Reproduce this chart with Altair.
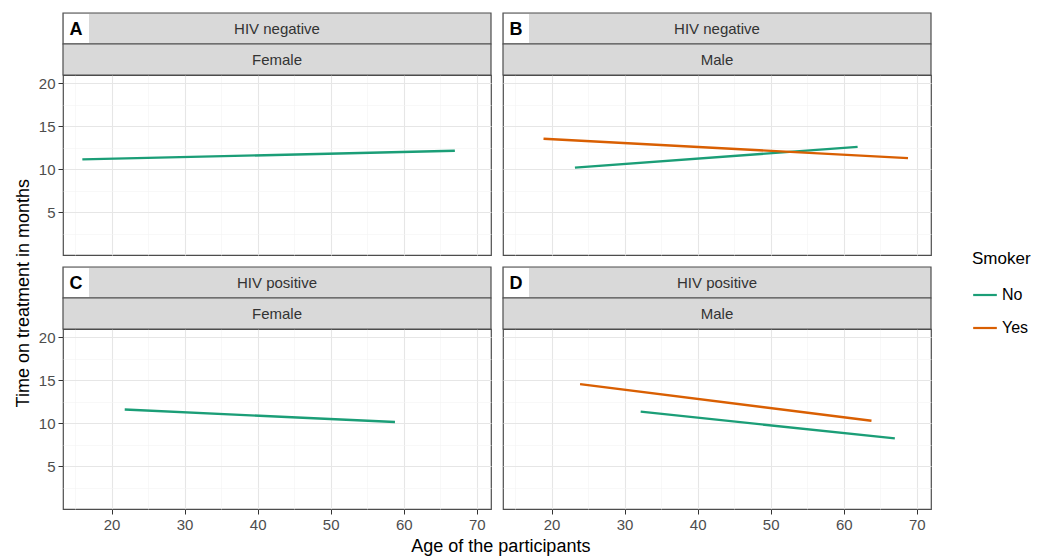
import altair as alt
import pandas as pd

# ---------------- data ----------------
panel_ids = ["A", "B", "C", "D"]
hiv_status = ["HIV negative", "HIV negative", "HIV positive", "HIV positive"]
sex = ["Female", "Male", "Female", "Male"]

line_panel = ["A", "A", "B", "B", "B", "B", "C", "C", "D", "D", "D", "D"]
line_smoker = ["No", "No", "No", "No", "Yes", "Yes", "No", "No", "No", "No", "Yes", "Yes"]
line_age = [16, 67, 23.2, 61.9, 18.9, 68.8, 21.8, 58.8, 32.2, 67.0, 23.9, 63.8]
line_months = [11.15, 12.15, 10.2, 12.6, 13.55, 11.3, 11.6, 10.15, 11.35, 8.25, 14.55, 10.3]

smoker_levels = ["No", "Yes"]
smoker_colors = ["#1b9e77", "#d95f02"]

x_ticks = [15, 20, 25, 30, 35, 40, 45, 50, 55, 60, 65, 70]
y_ticks = [2.5, 5, 7.5, 10, 12.5, 15, 17.5, 20]
x_domain = [13.35, 71.95]
y_domain = [0.05, 20.95]

lines_df = pd.DataFrame({"panel": line_panel, "smoker": line_smoker,
                         "age": line_age, "months": line_months})

FONT = "Liberation Sans"
W, H, S = 428, 180, 31
BORDER = "#4d4d4d"


def make_axis(values, major_mod, show):
    common = dict(
        values=values,
        grid=True,
        gridColor={"condition": {"test": f"datum.value % {major_mod} === 0", "value": "#e6e6e6"},
                   "value": "#f3f3f3"},
        gridWidth={"condition": {"test": f"datum.value % {major_mod} === 0", "value": 1.1},
                   "value": 0.6},
        domain=False,
        title=None,
    )
    if show:
        return alt.Axis(
            labels=True,
            ticks=True,
            tickSize=5,
            tickColor="#333333",
            tickWidth=1,
            tickOpacity={"condition": {"test": f"datum.value % {major_mod} === 0", "value": 1},
                         "value": 0},
            labelExpr=f"datum.value % {major_mod} === 0 ? datum.label : ''",
            labelFont=FONT,
            labelFontSize=15,
            labelColor="#4d4d4d",
            labelPadding=3,
            **common,
        )
    return alt.Axis(labels=False, ticks=False, **common)


def one_row(text):
    return pd.DataFrame({"t": [text]})


def panel(i, left, bottom):
    pid = panel_ids[i]
    d = lines_df[lines_df["panel"] == pid]

    lines = alt.Chart(d).mark_line(strokeWidth=2.4).encode(
        x=alt.X("age:Q", scale=alt.Scale(domain=x_domain, nice=False, zero=False),
                axis=make_axis(x_ticks, 10, bottom)),
        y=alt.Y("months:Q", scale=alt.Scale(domain=y_domain, nice=False, zero=False),
                axis=make_axis(y_ticks, 5, left)),
        color=alt.Color("smoker:N",
                        scale=alt.Scale(domain=smoker_levels, range=smoker_colors),
                        legend=alt.Legend(title="Smoker", orient="none",
                                          legendX=909, legendY=176)),
        detail="smoker:N",
    )

    strip1 = alt.Chart(one_row(hiv_status[i])).mark_rect(
        fill="#d9d9d9", stroke=BORDER, strokeWidth=1.2
    ).encode(x=alt.value(0), x2=alt.value(W), y=alt.value(-2 * S), y2=alt.value(-S))
    strip2 = alt.Chart(one_row(sex[i])).mark_rect(
        fill="#d9d9d9", stroke=BORDER, strokeWidth=1.2
    ).encode(x=alt.value(0), x2=alt.value(W), y=alt.value(-S), y2=alt.value(0))
    text1 = alt.Chart(one_row(hiv_status[i])).mark_text(
        font=FONT, fontSize=15, color="#333333"
    ).encode(text="t:N", x=alt.value(W / 2), y=alt.value(-1.5 * S))
    text2 = alt.Chart(one_row(sex[i])).mark_text(
        font=FONT, fontSize=15, color="#333333"
    ).encode(text="t:N", x=alt.value(W / 2), y=alt.value(-0.5 * S))
    box = alt.Chart(one_row(pid)).mark_rect(fill="white").encode(
        x=alt.value(1), x2=alt.value(26), y=alt.value(-2 * S + 1), y2=alt.value(-S - 1)
    )
    letter = alt.Chart(one_row(pid)).mark_text(
        font=FONT, fontSize=18, fontWeight="bold", color="black"
    ).encode(text="t:N", x=alt.value(13), y=alt.value(-1.5 * S + 1))

    return alt.layer(lines, strip1, strip2, text1, text2, box, letter).properties(
        width=W, height=H
    )


row1 = alt.hconcat(panel(0, True, False), panel(1, False, False), spacing=8)
row2 = alt.hconcat(panel(2, True, True), panel(3, False, True), spacing=8)

grid = alt.vconcat(row1, row2, spacing=9).properties(
    title=alt.TitleParams("Time on treatment in months", orient="left", anchor="middle",
                          font=FONT, fontSize=18, fontWeight="normal", color="black",
                          offset=5, dx=-21)
)

chart = alt.vconcat(grid, spacing=0).properties(
    title=alt.TitleParams("Age of the participants", orient="bottom", anchor="middle",
                          font=FONT, fontSize=18, fontWeight="normal", color="black",
                          offset=5, dx=-22),
    padding={"left": 6, "top": 3, "right": 0, "bottom": 0},
).configure_view(
    stroke=BORDER, strokeWidth=1.2
).configure_legend(
    titleFont=FONT, titleFontSize=17, titleFontWeight="normal", titleColor="black",
    labelFont=FONT, labelFontSize=16, labelColor="black",
    symbolType="stroke", symbolStrokeWidth=2.2, symbolSize=560,
    rowPadding=12, titlePadding=14,
).configure_concat(spacing=0)

chart.save("out.html", embed_options={"renderer": "svg", "actions": False})
